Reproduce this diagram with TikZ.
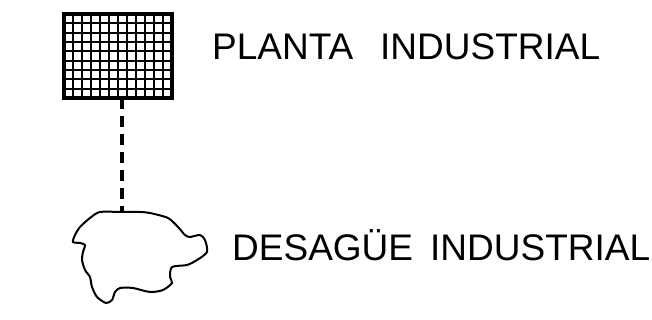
\documentclass[tikz,border=0pt]{standalone}
\usepackage{fontspec}
\setmainfont{Liberation Sans}
\usepackage{tikz}

\begin{document}
\begin{tikzpicture}[x=1pt,y=-1pt]
						\useasboundingbox (0,0) rectangle (652,320);
						%\draw[gray] (0,0) grid (652,320);
						\node[draw, line width=3.2pt, minimum width=108pt, minimum height=84pt, inner sep=0pt] (planta) at (118,56) {};
						\foreach \i in {1,...,11} \draw[line width=2.2pt] (64+9*\i,14) -- (64+9*\i,98);
						\foreach \j in {1,...,8} \draw[line width=2.2pt] (64,14+84*\j/9) -- (172,14+84*\j/9);
						\coordinate (salida) at (122,98);
						\coordinate (entrada) at (122,212);
						\draw[line width=4.5pt, dash pattern=on 11pt off 7pt] (salida) -- (entrada);
						% desague
						\draw[line width=2pt] plot[smooth cycle, tension=.45] coordinates {(100,212) (122,212) (140,212) (150,213) (168,218) (178,227) (185,235) (190,237) (200,235) (205,240) (207,252) (197,260) (187,265) (172,267) (170,277) (172,283) (163,290) (150,292) (133,288) (120,288) (115,292) (112,300) (106,303) (97,297) (92,287) (90,277) (85,270) (82,260) (83,252) (85,245) (80,243) (73,242) (75,235) (80,227) (90,218)};
						\node[anchor=base west, inner sep=0pt, font=\fontsize{37}{40}\selectfont] (planta1) at (212,60) {PLANTA};
						\node[anchor=base west, inner sep=0pt, font=\fontsize{37}{40}\selectfont] (planta2) at (380,60) {INDUSTRIAL};
						\node[anchor=base west, inner sep=0pt, font=\fontsize{37}{40}\selectfont] (desague1) at (232,260) {DESAGÜE};
						\node[anchor=base west, inner sep=0pt, font=\fontsize{37}{40}\selectfont] (desague2) at (430,260) {INDUSTRIAL};
						\end{tikzpicture}
\end{document}
